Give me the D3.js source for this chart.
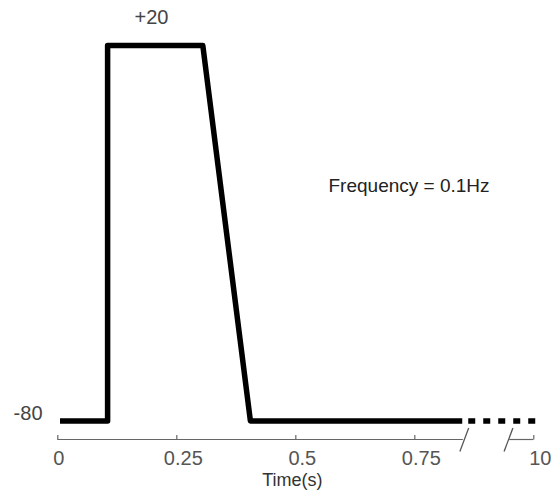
<!DOCTYPE html>
<meta charset="utf-8">
<script src="https://d3js.org/d3.v7.min.js"></script>
<style>
  body { margin: 0; background: #fff; }
  text { font-family: "Liberation Sans", Arial, sans-serif; }
</style>
<div id="chart"></div>
<script>

// data: one pulse of the membrane voltage (mV) against time (s)
var pulseTimes  = [0, 0.1, 0.1, 0.3, 0.4, 0.845];
var pulseVolts  = [-80, -80, 20, 20, -80, -80];
var tailTimes   = [0.845, 10];     // dashed continuation past the axis break
var tailVolts   = [-80, -80];
var tickValues  = [0, 0.25, 0.5, 0.75, 10];
var tickLabels  = ["0", "0.25", "0.5", "0.75", "10"];
var breakAt     = [0.855, 9.9];    // where the time axis is cut

var width = 555, height = 502;

var svg = d3.select("#chart").append("svg")
    .attr("width", width)
    .attr("height", height);

// broken time axis: 0..0.855 is linear, then jump to 9.9..10
var x = d3.scaleLinear()
    .domain([0, breakAt[0], breakAt[1], 10])
    .range([57.3, 464.3, 508.5, 533.3]);

var y = d3.scaleLinear()
    .domain([-80, 20])
    .range([421, 45.5]);

var axisY = 439.5;

// axis
var axis = svg.append("g")
    .attr("transform", "translate(0," + axisY + ")")
    .call(d3.axisBottom(x)
      .tickValues(tickValues)
      .tickFormat(function(d, i) { return tickLabels[i]; })
      .tickSize(-4.5)
      .tickPadding(11.5));
axis.select(".domain").remove();
axis.selectAll("line").attr("stroke", "#666").attr("stroke-width", 1.2);
axis.selectAll("text")
    .attr("fill", "#555")
    .attr("font-size", 20)
    .attr("font-family", "Liberation Sans, Arial, sans-serif")
    .attr("dx", function(d) { return d === 0 ? 1 : 6.5; });

// axis segments either side of the break
var segs = [[0, breakAt[0] - 0.003], [breakAt[1] + 0.003, 10]];
axis.selectAll(".seg")
  .data(segs)
  .enter().append("line")
    .attr("class", "seg")
    .attr("x1", function(d) { return x(d[0]); })
    .attr("x2", function(d) { return x(d[1]); })
    .attr("y1", 0).attr("y2", 0)
    .attr("stroke", "#666")
    .attr("stroke-width", 1.2);

// break slashes
axis.selectAll(".slash")
  .data(breakAt)
  .enter().append("line")
    .attr("class", "slash")
    .attr("x1", function(d) { return x(d) - 4.4; })
    .attr("x2", function(d) { return x(d) + 4.4; })
    .attr("y1", 12).attr("y2", -11.5)
    .attr("stroke", "#555")
    .attr("stroke-width", 1.3);

// signal
var line = d3.line()
    .x(function(d) { return x(d[0]); })
    .y(function(d) { return y(d[1]); });

var plot = svg.append("g").attr("transform", "translate(2.7,0)");

plot.append("path")
    .datum(d3.zip(pulseTimes, pulseVolts))
    .attr("d", line)
    .attr("fill", "none")
    .attr("stroke", "#000")
    .attr("stroke-width", 5.5)
    .attr("stroke-linejoin", "round");

plot.append("path")
    .datum(d3.zip(tailTimes, tailVolts))
    .attr("d", line)
    .attr("fill", "none")
    .attr("stroke", "#000")
    .attr("stroke-width", 5.5)
    .attr("stroke-dasharray", "7,8")
    .attr("stroke-dashoffset", 9);

// voltage labels
svg.append("text")
    .attr("x", 42.5)
    .attr("y", y(-80) - 1)
    .attr("text-anchor", "end")
    .attr("fill", "#444")
    .attr("font-size", 20)
    .text("-80");

svg.append("text")
    .attr("x", x(0.2) - 1)
    .attr("y", y(20) - 21.5)
    .attr("text-anchor", "middle")
    .attr("fill", "#444")
    .attr("font-size", 20)
    .text("+20");

svg.append("text")
    .attr("x", 328.5)
    .attr("y", 192.3)
    .attr("fill", "#222")
    .attr("font-size", 19)
    .text("Frequency = 0.1Hz");

svg.append("text")
    .attr("x", (x(0) + x(10)) / 2 - 3)
    .attr("y", 486)
    .attr("text-anchor", "middle")
    .attr("fill", "#333")
    .attr("font-size", 18)
    .text("Time(s)");

</script>
